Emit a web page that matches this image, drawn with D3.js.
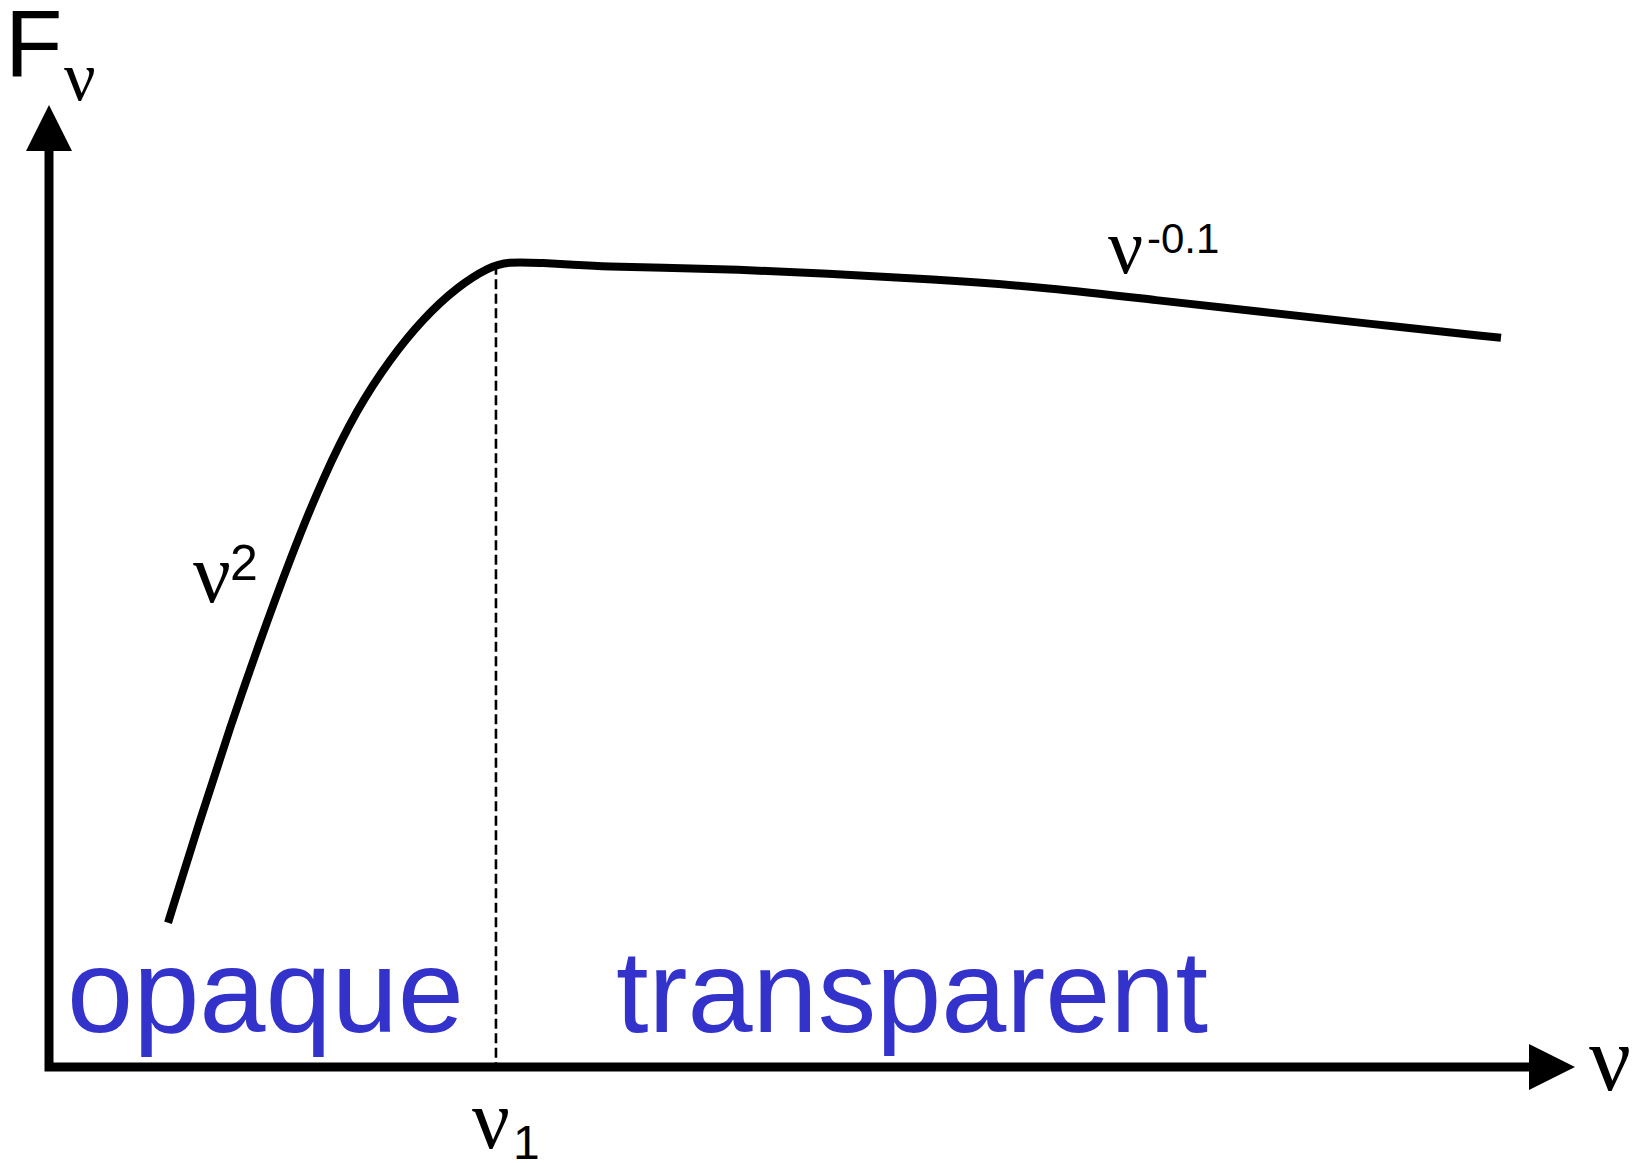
<!DOCTYPE html>
<html>
<head>
<meta charset="utf-8">
<script src="https://cdn.jsdelivr.net/npm/d3@7"></script>
<style>
  html, body { margin: 0; padding: 0; background: #fff; }
  svg { display: block; }
  .sans { font-family: "Liberation Sans", Arial, sans-serif; }
  .greek { font-family: "Liberation Serif", "Times New Roman", serif; }
</style>
</head>
<body>
<svg id="chart" width="1648" height="1163"></svg>
<script>
// Spectrum sketch: F_nu vs nu (arbitrary units, 0-100 on each axis)
const freq = [7.80, 9.90, 11.86, 13.83, 15.79, 17.96, 20.18, 22.35, 24.51, 26.74,
              28.90, 30.01, 32.18, 34.34, 36.57, 40.00, 45.02, 50.90, 57.70, 65.70,
              72.54, 79.42, 86.30, 95.15];
const flux = [15.0, 25.7, 35.3, 44.3, 52.8, 61.3, 68.4, 73.6, 77.8, 81.1,
              83.2, 83.7, 83.6, 83.4, 83.2, 83.1, 82.9, 82.5, 81.9, 81.0,
              79.7, 78.5, 77.3, 75.8];
const nuBreak = 29.29;             // turnover frequency nu_1
const breakFlux = 83.4;            // curve height at nu_1
const regions = ["opaque", "transparent"];
const slopeLow = "2";
const slopeHigh = "-0.1";

const x = d3.scaleLinear().domain([0, 100]).range([49, 1575]);
const y = d3.scaleLinear().domain([0, 100]).range([1067, 105]);

const svg = d3.select("#chart");
const ink = "#000";
const blue = "#3333cc";

// dashed marker at nu_1
svg.append("line")
  .attr("x1", x(nuBreak)).attr("x2", x(nuBreak))
  .attr("y1", y(breakFlux)).attr("y2", y(0))
  .attr("stroke", ink).attr("stroke-width", 2.6)
  .attr("stroke-dasharray", "10,4.5");

// spectrum curve
const pts = freq.map((f, i) => [f, flux[i]]);
svg.append("path")
  .datum(pts)
  .attr("fill", "none")
  .attr("stroke", ink)
  .attr("stroke-width", 8)
  .attr("stroke-linecap", "butt")
  .attr("d", d3.line().x(d => x(d[0])).y(d => y(d[1])).curve(d3.curveBasis));

// axes with arrowheads
const head = 46, halfW = 23;
svg.append("path")
  .attr("fill", "none").attr("stroke", ink).attr("stroke-width", 9)
  .attr("stroke-linejoin", "miter")
  .attr("d", `M${x(0)},${y(100) + head - 2} L${x(0)},${y(0)} L${x(100) - head + 2},${y(0)}`);
svg.append("path").attr("fill", ink)
  .attr("d", `M${x(0)},${y(100)} L${x(0) - halfW},${y(100) + head} L${x(0) + halfW},${y(100) + head} Z`);
svg.append("path").attr("fill", ink)
  .attr("d", `M${x(100)},${y(0)} L${x(100) - head},${y(0) - halfW} L${x(100) - head},${y(0) + halfW} Z`);

// axis labels
svg.append("text").attr("class", "sans").attr("x", 5).attr("y", 76)
  .attr("font-size", 94).attr("fill", ink).text("F");
svg.append("text").attr("class", "greek").attr("x", 64).attr("y", 100)
  .attr("font-size", 70).attr("fill", ink).text("ν");
svg.append("text").attr("class", "greek").attr("x", 1589).attr("y", 1090)
  .attr("font-size", 93).attr("fill", ink).text("ν");

// nu_1 tick label
svg.append("text").attr("class", "greek").attr("x", x(nuBreak) - 24).attr("y", 1148)
  .attr("font-size", 84).attr("fill", ink).text("ν");
svg.append("text").attr("class", "sans").attr("x", x(nuBreak) + 17).attr("y", 1159)
  .attr("font-size", 48).attr("fill", ink).text("1");

// power-law slope labels
svg.append("text").attr("class", "greek").attr("x", 193).attr("y", 602)
  .attr("font-size", 84).attr("fill", ink).text("ν");
svg.append("text").attr("class", "sans").attr("x", 230).attr("y", 580)
  .attr("font-size", 50).attr("fill", ink).text(slopeLow);
svg.append("text").attr("class", "greek").attr("x", 1108).attr("y", 273)
  .attr("font-size", 78).attr("fill", ink).text("ν");
svg.append("text").attr("class", "sans").attr("x", 1147).attr("y", 253)
  .attr("font-size", 42).attr("fill", ink).text(slopeHigh);

// regime labels
svg.append("text").attr("class", "sans").attr("x", 265.5).attr("y", 1032)
  .attr("text-anchor", "middle").attr("font-size", 119).attr("fill", blue).text(regions[0]);
svg.append("text").attr("class", "sans").attr("x", 912).attr("y", 1032)
  .attr("text-anchor", "middle").attr("font-size", 117).attr("fill", blue).text(regions[1]);
</script>
</body>
</html>
